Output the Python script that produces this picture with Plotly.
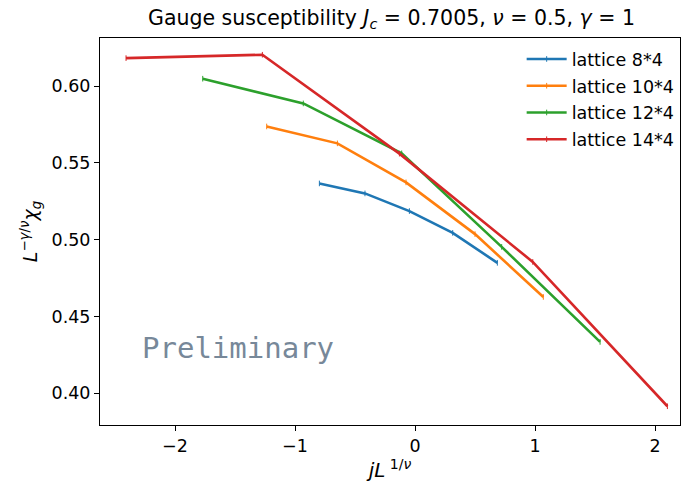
import plotly.graph_objects as go

names = ["lattice 8*4", "lattice 10*4", "lattice 12*4", "lattice 14*4"]
colors = ["#1f77b4", "#ff7f0e", "#2ca02c", "#d62728"]
x8 = [-0.797, -0.417, -0.047, 0.314, 0.686]
y8 = [0.5366, 0.5301, 0.5186, 0.5044, 0.4849]
x10 = [-1.236, -0.647, -0.075, 0.500, 1.069]
y10 = [0.5737, 0.5627, 0.5373, 0.5036, 0.4627]
x12 = [-1.769, -0.931, -0.111, 0.722, 1.542]
y12 = [0.6048, 0.5887, 0.5562, 0.4953, 0.4334]
x14 = [-2.408, -1.272, -0.130, 0.981, 2.103]
y14 = [0.6182, 0.6204, 0.5560, 0.4855, 0.3915]
xs = [x8, x10, x12, x14]
ys = [y8, y10, y12, y14]

x_ticks = [-2, -1, 0, 1, 2]
x_tick_text = ["\u22122", "\u22121", "0", "1", "2"]
y_ticks = [0.40, 0.45, 0.50, 0.55, 0.60]
y_tick_text = ["0.40", "0.45", "0.50", "0.55", "0.60"]

FONT = "DejaVu Sans"
fig = go.Figure()
for i in range(4):
    fig.add_trace(go.Scatter(
        x=xs[i], y=ys[i], mode="lines+markers", name=names[i],
        legendgroup=names[i],
        line=dict(color=colors[i], width=2.6),
        marker=dict(symbol="line-ns", size=4, line=dict(color=colors[i], width=1)),
    ))

fig.add_annotation(x=-2.29, y=0.4297, xref="x", yref="y", text="Preliminary",
                   showarrow=False, xanchor="left", yanchor="middle",
                   font=dict(family="DejaVu Sans Mono", size=29, color="#778899"))

axis_common = dict(showgrid=False, zeroline=False, showline=True, linecolor="black",
                   linewidth=1, mirror=True, ticks="outside", ticklen=5, tickwidth=1,
                   tickcolor="black", tickfont=dict(family=FONT, size=17.5, color="black"))

fig.update_layout(
    width=681, height=483,
    margin=dict(l=100, r=1, t=38, b=58, autoexpand=False),
    paper_bgcolor="white", plot_bgcolor="white",
    font=dict(family=FONT, size=17, color="black"),
    title=dict(text="Gauge susceptibility <i>J<sub>c</sub></i> = 0.7005, <i>\u03bd</i> = 0.5, <i>\u03b3</i> = 1",
               x=(391.5) / 681, xanchor="center", y=1 - 18 / 483, yanchor="middle",
               font=dict(family=FONT, size=20.5, color="black")),
    xaxis=dict(range=[-2.625, 2.208], tickvals=x_ticks, ticktext=x_tick_text,
               title=dict(text="<i>jL</i><sup> 1/<i>\u03bd</i></sup>", standoff=6,
                          font=dict(family=FONT, size=20)), **axis_common),
    yaxis=dict(range=[0.3793, 0.6313], tickvals=y_ticks, ticktext=y_tick_text,
               title=dict(text="<i>L</i><sup>\u2212<i>\u03b3</i>/<i>\u03bd</i></sup><i>\u03c7<sub>g</sub></i>",
                          standoff=8, font=dict(family=FONT, size=19)), **axis_common),
    legend=dict(x=0.727, y=0.992, xanchor="left", yanchor="top", bgcolor="rgba(255,255,255,0)",
                borderwidth=0, tracegroupgap=1, itemwidth=40,
                font=dict(family=FONT, size=17.5, color="black")),
    showlegend=True,
)

fig.write_html("out.html")
